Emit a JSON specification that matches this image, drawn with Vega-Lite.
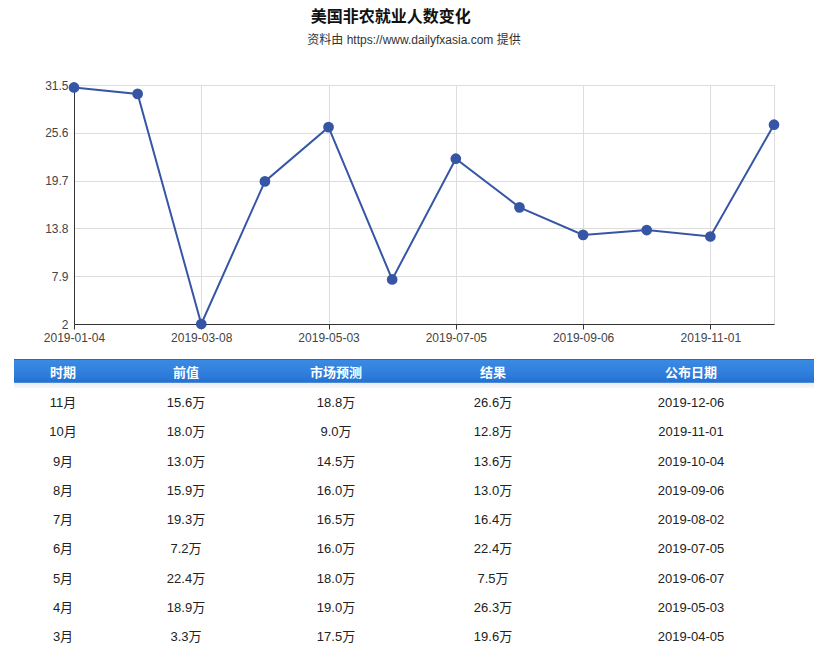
{
  "$schema": "https://vega.github.io/schema/vega-lite/v6.json",
  "padding": {"left": 13, "top": 8, "right": 5, "bottom": 5},
  "background": "white",
  "config": {"font": "Liberation Sans, Noto Sans CJK SC", "view": {"stroke": null}},
  "title": {
    "text": "美国非农就业人数变化",
    "anchor": "middle",
    "dx": -23,
    "font": "Noto Sans CJK SC",
    "fontSize": 16,
    "fontWeight": "bold",
    "color": "#111",
    "offset": 9
  },
  "datasets": {
    "nfp": [
      {"date": "2019-01-04", "value": 31.2},
      {"date": "2019-02-01", "value": 30.4},
      {"date": "2019-03-08", "value": 2.0},
      {"date": "2019-04-05", "value": 19.6},
      {"date": "2019-05-03", "value": 26.3},
      {"date": "2019-06-07", "value": 7.5},
      {"date": "2019-07-05", "value": 22.4},
      {"date": "2019-08-02", "value": 16.4},
      {"date": "2019-09-06", "value": 13.0},
      {"date": "2019-10-04", "value": 13.6},
      {"date": "2019-11-01", "value": 12.8},
      {"date": "2019-12-06", "value": 26.6}
    ],
    "table": [
      {"时期": "11月", "前值": "15.6万", "市场预测": "18.8万", "结果": "26.6万", "公布日期": "2019-12-06"},
      {"时期": "10月", "前值": "18.0万", "市场预测": "9.0万", "结果": "12.8万", "公布日期": "2019-11-01"},
      {"时期": "9月", "前值": "13.0万", "市场预测": "14.5万", "结果": "13.6万", "公布日期": "2019-10-04"},
      {"时期": "8月", "前值": "15.9万", "市场预测": "16.0万", "结果": "13.0万", "公布日期": "2019-09-06"},
      {"时期": "7月", "前值": "19.3万", "市场预测": "16.5万", "结果": "16.4万", "公布日期": "2019-08-02"},
      {"时期": "6月", "前值": "7.2万", "市场预测": "16.0万", "结果": "22.4万", "公布日期": "2019-07-05"},
      {"时期": "5月", "前值": "22.4万", "市场预测": "18.0万", "结果": "7.5万", "公布日期": "2019-06-07"},
      {"时期": "4月", "前值": "18.9万", "市场预测": "19.0万", "结果": "26.3万", "公布日期": "2019-05-03"},
      {"时期": "3月", "前值": "3.3万", "市场预测": "17.5万", "结果": "19.6万", "公布日期": "2019-04-05"}
    ],
    "cols": [
      {"col": "时期", "ci": 0},
      {"col": "前值", "ci": 1},
      {"col": "市场预测", "ci": 2},
      {"col": "结果", "ci": 3},
      {"col": "公布日期", "ci": 4}
    ]
  },
  "vconcat": [
    {
      "width": 700,
      "height": 239,
      "title": {
        "text": "资料由 https://www.dailyfxasia.com 提供",
        "anchor": "middle",
        "frame": "group",
        "dx": -10,
        "offset": 32,
        "font": "Liberation Sans, Noto Sans CJK SC",
        "fontSize": 12,
        "fontWeight": "normal",
        "color": "#333"
      },
      "data": {"name": "nfp"},
      "view": {"stroke": "#dddddd"},
      "encoding": {
        "x": {
          "field": "date",
          "type": "ordinal",
          "scale": {"type": "point", "padding": 0},
          "axis": {
            "values": ["2019-01-04", "2019-03-08", "2019-05-03", "2019-07-05", "2019-09-06", "2019-11-01"],
            "labelAngle": 0,
            "title": null,
            "grid": true,
            "gridColor": "#dddddd",
            "domainColor": "#333333",
            "tickColor": "#333333",
            "tickSize": 5,
            "labelPadding": 3,
            "labelColor": "#444444",
            "labelFontSize": 12,
            "labelFont": "Liberation Sans"
          }
        },
        "y": {
          "field": "value",
          "type": "quantitative",
          "scale": {"domain": [2, 31.5], "nice": false, "zero": false},
          "axis": {
            "values": [2, 7.9, 13.8, 19.7, 25.6, 31.5],
            "format": ".1~f",
            "title": null,
            "ticks": false,
            "labelPadding": 6,
            "grid": true,
            "gridColor": "#dddddd",
            "domainColor": "#333333",
            "labelColor": "#444444",
            "labelFontSize": 12,
            "labelFont": "Liberation Sans",
            "minExtent": 60
          }
        }
      },
      "layer": [
        {"mark": {"type": "line", "color": "#3656a5", "strokeWidth": 2}},
        {"mark": {"type": "point", "filled": true, "opacity": 1, "color": "#3656a5", "size": 115}}
      ]
    },
    {
      "width": 700,
      "height": 293,
      "view": {"stroke": null},
      "encoding": {
        "y": {
          "type": "nominal",
          "scale": {
            "domain": ["header", "11月", "10月", "9月", "8月", "7月", "6月", "5月", "4月", "3月"],
            "paddingInner": 0,
            "paddingOuter": 0
          },
          "axis": null
        }
      },
      "layer": [
        {
          "data": {"values": [{"h": "header", "start": -1, "end": 5}]},
          "mark": {
            "type": "rect",
            "color": {
              "gradient": "linear",
              "x1": 0, "y1": 0, "x2": 0, "y2": 1,
              "stops": [
                {"offset": 0, "color": "#2559a3"},
                {"offset": 0.05, "color": "#3a8ae4"},
                {"offset": 0.5, "color": "#2f7edc"},
                {"offset": 0.8, "color": "#2470d0"},
                {"offset": 0.81, "color": "#e8ebef"},
                {"offset": 1, "color": "#f7f8fa"}
              ]
            }
          },
          "encoding": {
            "x": {
              "field": "start",
              "type": "quantitative",
              "scale": {"domain": [-1, 0, 1, 2, 3, 4, 5], "range": [-60, -11, 112, 262, 419, 617, 740]},
              "axis": null
            },
            "x2": {"field": "end"},
            "y": {"field": "h", "type": "nominal"}
          }
        },
        {
          "data": {"name": "cols"},
          "mark": {"type": "text", "color": "white", "fontSize": 13, "fontWeight": "bold", "font": "Noto Sans CJK SC", "dy": -1},
          "encoding": {
            "x": {"field": "ci", "type": "quantitative", "axis": null},
            "y": {"datum": "header"},
            "text": {"field": "col"}
          }
        },
        {
          "data": {"name": "table"},
          "transform": [
            {"fold": ["时期", "前值", "市场预测", "结果", "公布日期"], "as": ["col", "val"]},
            {"lookup": "col", "from": {"data": {"name": "cols"}, "key": "col", "fields": ["ci"]}}
          ],
          "mark": {"type": "text", "color": "#222", "fontSize": 13, "font": "Liberation Sans, Noto Sans CJK SC"},
          "encoding": {
            "x": {"field": "ci", "type": "quantitative", "axis": null},
            "y": {"field": "时期"},
            "text": {"field": "val"}
          }
        }
      ]
    }
  ],
  "spacing": 15
}
